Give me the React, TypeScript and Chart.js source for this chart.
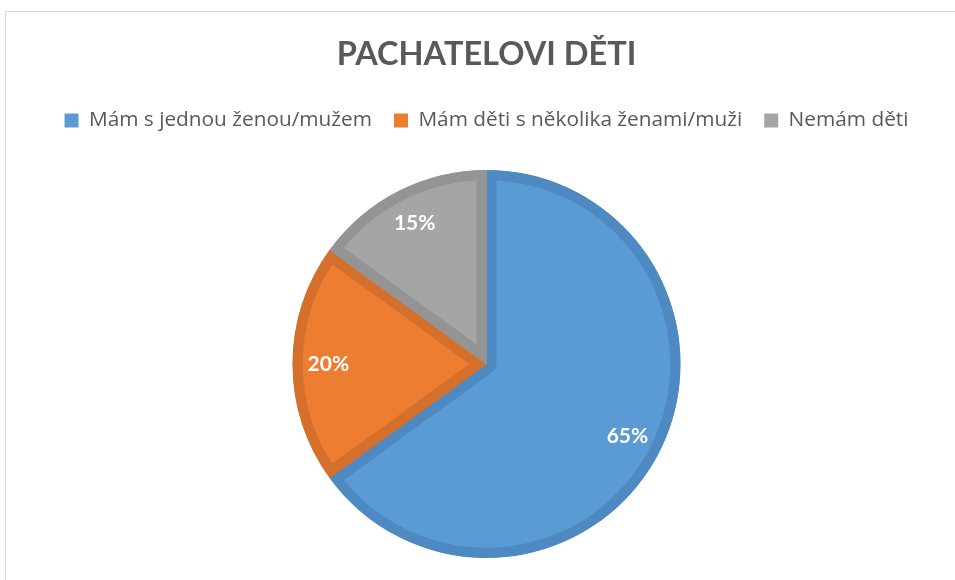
import React, { useEffect, useRef } from "react";
import { Chart, registerables } from "chart.js";

Chart.register(...registerables);

const title = "PACHATELOVI DĚTI";
const categories = [
  "Mám s jednou ženou/mužem",
  "Mám děti s několika ženami/muži",
  "Nemám děti",
];
const values = [65, 20, 15];
const valueLabels = ["65%", "20%", "15%"];
const fillColors = ["#5B9BD5", "#ED7D31", "#A5A5A5"];
const borderColors = ["#4E89C1", "#D5702C", "#949494"];

const legendSpacer = {
  id: "legendSpacer",
  beforeInit(chart: any) {
    const legend = chart.legend;
    if (!legend) return;
    const orig = legend.fit;
    legend.fit = function () {
      orig.call(this);
      this.height += 29;
    };
  },
};

const pieLabels = {
  id: "pieLabels",
  afterDatasetsDraw(chart: any) {
    const ctx = chart.ctx;
    const meta = chart.getDatasetMeta(0);
    ctx.save();
    ctx.fillStyle = "#FFFFFF";
    ctx.font = "bold 21px Lato";
    ctx.textAlign = "center";
    ctx.textBaseline = "middle";
    meta.data.forEach((arc: any, i: number) => {
      const { x, y, startAngle, endAngle, outerRadius } = arc.getProps(
        ["x", "y", "startAngle", "endAngle", "outerRadius"],
        true
      );
      const mid = (startAngle + endAngle) / 2;
      const r = outerRadius * 0.815;
      ctx.fillText(valueLabels[i], x + Math.cos(mid) * r, y + Math.sin(mid) * r);
    });
    ctx.restore();
  },
};

export default function App() {
  const ref = useRef<HTMLCanvasElement | null>(null);

  useEffect(() => {
    if (!ref.current) return;
    const chart = new Chart(ref.current, {
      type: "pie",
      data: {
        labels: categories,
        datasets: [
          {
            data: values,
            backgroundColor: fillColors,
            borderColor: borderColors,
            borderWidth: 10,
            borderAlign: "inner",
          },
        ],
      },
      options: {
        responsive: false,
        animation: false,
        layout: { padding: { left: 18, right: 0, top: 0, bottom: 22 } },
        plugins: {
          title: {
            display: true,
            text: title,
            color: "#595959",
            font: { family: "Lato", size: 32.5, weight: "bold", lineHeight: 1.2 },
            padding: { top: 35, bottom: 14.1 },
          },
          legend: {
            display: true,
            position: "top",
            labels: {
              boxWidth: 14,
              boxHeight: 14,
              padding: 22,
              color: "#595959",
              font: { family: "Open Sans", size: 20.8 },
              generateLabels: (c: any) =>
                categories.map((text, i) => ({
                  text,
                  fillStyle: fillColors[i],
                  strokeStyle: fillColors[i],
                  lineWidth: 0,
                  fontColor: "#595959",
                  hidden: false,
                  index: i,
                })),
            },
          },
          tooltip: { enabled: false },
        },
      },
      plugins: [legendSpacer, pieLabels],
    });
    return () => chart.destroy();
  }, []);

  return (
    <div style={{ position: "fixed", left: 0, top: 0, width: 955, height: 580, overflow: "hidden", background: "#FFFFFF" }}>
      <div
        style={{
          position: "absolute",
          left: 5,
          top: 11,
          width: 950,
          height: 569,
          borderLeft: "1px solid #D9D9D9",
          borderTop: "1px solid #D9D9D9",
          boxSizing: "border-box",
        }}
      />
      <canvas ref={ref} width={955} height={580} style={{ position: "absolute", left: 0, top: 0 }} />
    </div>
  );
}
